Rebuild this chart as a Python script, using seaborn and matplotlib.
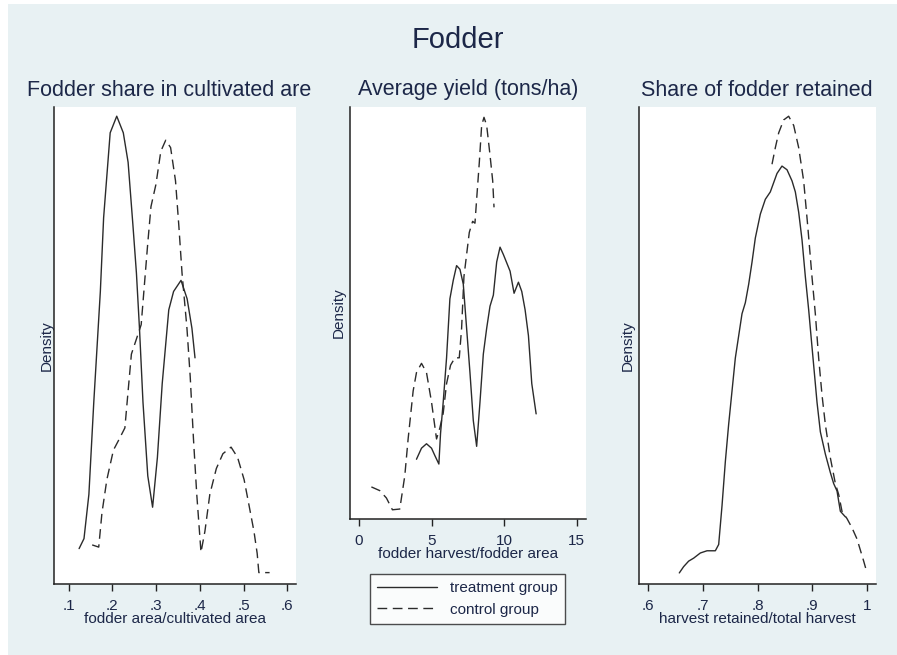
import numpy as np
import pandas as pd
import matplotlib
matplotlib.use("Agg")
import matplotlib.pyplot as plt
import seaborn as sns
from matplotlib.patches import Rectangle
from matplotlib.lines import Line2D

# ---------------- data (density units arbitrary) -----
p1_treat_x = [0.1239, 0.1351, 0.1463, 0.1575, 0.1725, 0.180, 0.195, 0.210, 0.225, 0.236,
              0.247, 0.255, 0.262, 0.270, 0.281, 0.292, 0.303, 0.314, 0.329, 0.340,
              0.357, 0.371, 0.382, 0.389]
p1_treat_y = [0.354, 0.454, 0.897, 1.819, 2.926, 3.664, 4.513, 4.679, 4.513, 4.218,
              3.590, 3.111, 2.557, 1.819, 1.081, 0.768, 1.266, 2.004, 2.742, 2.926,
              3.037, 2.852, 2.557, 2.262]
p1_ctrl_x = [0.1538, 0.1688, 0.1762, 0.1874, 0.2024, 0.2136, 0.2286, 0.2360, 0.2435, 0.2547,
             0.2659, 0.2734, 0.2809, 0.2883, 0.2996, 0.3108, 0.3220, 0.3332, 0.3444, 0.3519,
             0.3593, 0.3706, 0.3780, 0.3855, 0.3930, 0.4027, 0.4117, 0.4229, 0.4378, 0.4528,
             0.4715, 0.4864, 0.5013, 0.5126, 0.5238, 0.5312, 0.5350, 0.5596]
p1_ctrl_y = [0.391, 0.369, 0.712, 1.044, 1.339, 1.432, 1.561, 1.930, 2.299, 2.446,
             2.594, 3.000, 3.406, 3.775, 3.996, 4.328, 4.439, 4.365, 4.033, 3.590,
             3.111, 2.557, 2.077, 1.450, 0.897, 0.317, 0.528, 0.897, 1.155, 1.303,
             1.369, 1.266, 1.044, 0.786, 0.528, 0.306, 0.114, 0.114]

p2_treat_x = [3.963, 4.309, 4.654, 5.000, 5.230, 5.507, 5.622, 5.806, 6.037, 6.267,
              6.498, 6.728, 6.959, 7.189, 7.419, 7.650, 7.880, 8.111, 8.341, 8.571,
              8.802, 9.032, 9.263, 9.493, 9.724, 9.954, 10.415, 10.691, 10.991, 11.221,
              11.452, 11.682, 11.912, 12.212]
p2_treat_y = [0.0324, 0.0384, 0.0408, 0.0384, 0.0344, 0.0298, 0.0464, 0.0634, 0.0874, 0.1194,
              0.1294, 0.1374, 0.1354, 0.1274, 0.1034, 0.0794, 0.0534, 0.0394, 0.0634, 0.0894,
              0.1034, 0.1154, 0.1214, 0.1394, 0.1474, 0.1434, 0.1344, 0.1224, 0.1284, 0.1234,
              0.1134, 0.0994, 0.0734, 0.0570]
p2_ctrl_x = [0.853, 1.429, 1.889, 2.304, 2.811, 3.157, 3.387, 3.733, 3.963, 4.309,
             4.654, 5.000, 5.346, 5.576, 5.806, 6.037, 6.313, 6.613, 6.912, 7.074,
             7.235, 7.419, 7.604, 7.834, 7.995, 8.111, 8.295, 8.456, 8.618, 8.802,
             9.032, 9.217, 9.309]
p2_ctrl_y = [0.0174, 0.0154, 0.0114, 0.0050, 0.0054, 0.0234, 0.0434, 0.0694, 0.0794, 0.0844,
             0.0794, 0.0634, 0.0434, 0.0494, 0.0574, 0.0734, 0.0834, 0.0874, 0.0874, 0.1034,
             0.1314, 0.1434, 0.1554, 0.1614, 0.1604, 0.1734, 0.1934, 0.2134, 0.2178, 0.2134,
             0.1974, 0.1834, 0.1690]

p3_treat_x = [0.6572, 0.6651, 0.6743, 0.6834, 0.6956, 0.7078, 0.7230, 0.7291, 0.7352, 0.7413,
              0.7473, 0.7534, 0.7595, 0.7656, 0.7717, 0.7778, 0.7839, 0.7900, 0.7960, 0.8052,
              0.8143, 0.8234, 0.8295, 0.8356, 0.8447, 0.8539, 0.8630, 0.8691, 0.8752, 0.8813,
              0.8874, 0.8935, 0.8977, 0.9026, 0.9087, 0.9148, 0.9239, 0.9330, 0.9391, 0.9452,
              0.9513, 0.9604]
p3_treat_y = [0.120, 0.188, 0.248, 0.280, 0.336, 0.360, 0.360, 0.428, 0.848, 1.328,
              1.728, 2.088, 2.448, 2.688, 2.928, 3.048, 3.248, 3.488, 3.748, 4.008,
              4.168, 4.248, 4.348, 4.448, 4.528, 4.488, 4.368, 4.248, 4.028, 3.728,
              3.328, 2.968, 2.688, 2.368, 1.968, 1.648, 1.408, 1.208, 1.088, 1.008,
              0.788, 0.728]
p3_ctrl_x = [0.8265, 0.8326, 0.8387, 0.8478, 0.8569, 0.8661, 0.8752, 0.8843, 0.8916, 0.8995,
             0.9056, 0.9117, 0.9178, 0.9239, 0.9330, 0.9422, 0.9483, 0.9543, 0.9635, 0.9726,
             0.9817, 0.9878, 0.9939, 1.0000]
p3_ctrl_y = [4.548, 4.728, 4.888, 5.028, 5.068, 4.968, 4.728, 4.368, 3.888, 3.328,
             2.928, 2.448, 2.048, 1.728, 1.368, 1.088, 0.968, 0.788, 0.708, 0.608,
             0.488, 0.368, 0.248, 0.120]

group_labels = ["treatment group", "control group"]
main_title = "Fodder"
panel_titles = ["Fodder share in cultivated are", "Average yield (tons/ha)", "Share of fodder retained"]
x_labels = ["fodder area/cultivated area", "fodder harvest/fodder area", "harvest retained/total harvest"]
p1_ticks = [0.1, 0.2, 0.3, 0.4, 0.5, 0.6]
p1_ticklabels = [".1", ".2", ".3", ".4", ".5", ".6"]
p2_ticks = [0, 5, 10, 15]
p2_ticklabels = ["0", "5", "10", "15"]
p3_ticks = [0.6, 0.7, 0.8, 0.9, 1.0]
p3_ticklabels = [".6", ".7", ".8", ".9", "1"]

# ---------------- style -------------------------------------------------------
sns.set_theme(style="white")
plt.rcParams["font.family"] = ["Liberation Sans", "DejaVu Sans"]

W, H = 897, 655
fig = plt.figure(figsize=(W / 100, H / 100), dpi=100, facecolor="white")
BG = "#e8f1f3"
TXT = "#1c2748"
fig.patches.append(Rectangle((8 / W, 0), 1 - 8 / W, 1 - 4 / H, transform=fig.transFigure,
                             facecolor=BG, edgecolor="none", zorder=-10))

def box(l, t, r, b):
    return [l / W, 1 - b / H, (r - l) / W, (b - t) / H]

panels = [
    dict(rect=box(54, 107, 296, 584), xlim=(0.0665, 0.62), ylim=(0, 4.771),
         tx=p1_treat_x, ty=p1_treat_y, cx=p1_ctrl_x, cy=p1_ctrl_y,
         ticks=p1_ticks, tl=p1_ticklabels, title_x=169, ylpad=0),
    dict(rect=box(350, 107, 586, 519), xlim=(-0.62, 15.65), ylim=(0, 0.2234),
         tx=p2_treat_x, ty=p2_treat_y, cx=p2_ctrl_x, cy=p2_ctrl_y,
         ticks=p2_ticks, tl=p2_ticklabels, title_x=468, ylpad=3),
    dict(rect=box(639, 107, 876, 584), xlim=(0.5836, 1.0164), ylim=(0, 5.168),
         tx=p3_treat_x, ty=p3_treat_y, cx=p3_ctrl_x, cy=p3_ctrl_y,
         ticks=p3_ticks, tl=p3_ticklabels, title_x=757, ylpad=3),
]

LINE = "#2b2b2b"
for i, p in enumerate(panels):
    ax = fig.add_axes(p["rect"])
    ax.set_facecolor("white")
    df = pd.concat([
        pd.DataFrame({"x": p["tx"], "y": p["ty"], "group": group_labels[0]}),
        pd.DataFrame({"x": p["cx"], "y": p["cy"], "group": group_labels[1]}),
    ], ignore_index=True)
    sns.lineplot(data=df, x="x", y="y", hue="group", style="group",
                 palette=[LINE, LINE], dashes={group_labels[0]: "", group_labels[1]: (7, 4)},
                 sort=False, estimator=None, linewidth=1.0, legend=False, ax=ax)
    ax.set_xlim(*p["xlim"])
    ax.set_ylim(*p["ylim"])
    ax.set_xticks(p["ticks"])
    ax.set_xticklabels(p["tl"])
    ax.set_yticks([])
    for s in ["top", "right"]:
        ax.spines[s].set_visible(False)
    for s in ["left", "bottom"]:
        ax.spines[s].set_visible(True)
        ax.spines[s].set_color("#222222")
        ax.spines[s].set_linewidth(1.1)
    ax.tick_params(axis="x", bottom=True, direction="out", length=5, width=1.0,
                   color="#222222", pad=6, labelsize=11, labelcolor=TXT)
    ax.set_xlabel(x_labels[i], fontsize=11, color=TXT, labelpad=-1)
    ax.set_ylabel("Density", fontsize=11, color=TXT, labelpad=p["ylpad"])
    fig.text(p["title_x"] / W, 1 - 90 / H, panel_titles[i], ha="center", va="center",
             fontsize=15.5, color=TXT)

fig.text(458 / W, 1 - 40 / H, main_title, ha="center", va="center", fontsize=21, color=TXT)

handles = [Line2D([], [], color=LINE, lw=1.0),
           Line2D([], [], color=LINE, lw=1.0, dashes=(7, 4))]
leg = fig.legend(handles, group_labels, loc="center",
                 bbox_to_anchor=(467.5 / W, 1 - 599 / H), frameon=True, fancybox=False,
                 fontsize=11, handlelength=3.9, handletextpad=0.85, borderpad=0.45,
                 labelspacing=0.5, borderaxespad=0)
leg.get_frame().set_edgecolor("#222222")
leg.get_frame().set_linewidth(1.0)
leg.get_frame().set_facecolor("white")
for t in leg.get_texts():
    t.set_color(TXT)

fig.savefig("out.png", dpi=100, facecolor=fig.get_facecolor())
